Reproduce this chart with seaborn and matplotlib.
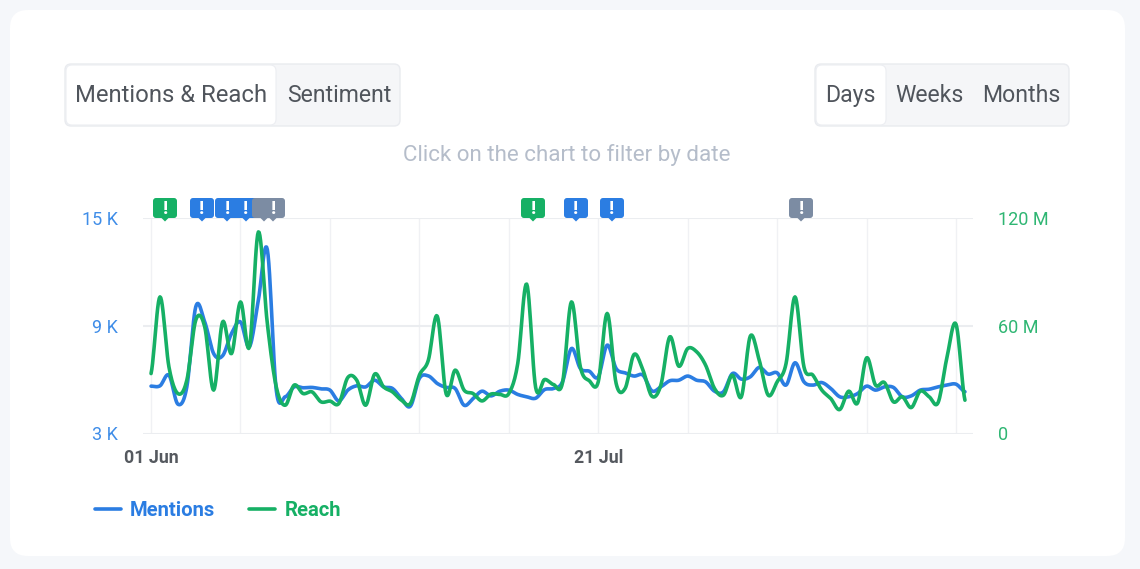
import numpy as np
import pandas as pd
import matplotlib
matplotlib.use("Agg")
import matplotlib.pyplot as plt
import seaborn as sns
from matplotlib.patches import FancyBboxPatch, Polygon

# values, one per day from 01 Jun
mentions = [5.63, 5.65, 6.24, 4.63, 5.59, 10.04, 9.20, 7.44, 7.32, 8.56, 9.20, 7.82, 10.41, 13.22, 5.41, 5.04,
            5.59, 5.54, 5.56, 5.48, 5.41, 4.81, 5.41, 5.65, 5.59, 5.96, 5.59, 5.50, 4.94, 4.52, 6.06, 6.20,
            5.78, 5.56, 5.50, 4.57, 4.94, 5.35, 5.09, 5.35, 5.41, 5.17, 5.04, 4.96, 5.44, 5.50, 5.87, 7.72,
            6.61, 6.46, 6.15, 7.91, 6.61, 6.37, 6.19, 6.24, 5.37, 5.59, 5.93, 5.96, 6.19, 5.96, 5.87, 5.35,
            5.32, 6.33, 6.02, 6.15, 6.67, 6.30, 6.37, 5.69, 6.93, 5.87, 5.69, 5.83, 5.50, 5.04, 5.04, 5.22,
            5.63, 5.41, 5.59, 5.56, 5.04, 5.09, 5.41, 5.46, 5.59, 5.69, 5.74, 5.32]
reach = [33.3, 75.9, 37.0, 22.2, 29.6, 63.0, 59.3, 24.1, 62.0, 44.4, 73.1, 48.1, 112.0, 61.1, 25.9, 15.7,
         26.9, 22.2, 23.1, 17.6, 18.0, 16.7, 31.1, 29.6, 15.7, 33.0, 25.9, 23.1, 18.5, 16.7, 32.4, 40.7,
         65.2, 21.9, 35.2, 24.1, 22.2, 18.1, 21.9, 21.7, 22.2, 38.9, 83.0, 25.6, 30.0, 27.2, 28.1, 73.1,
         37.0, 29.3, 28.7, 66.7, 27.8, 25.0, 43.9, 35.2, 20.7, 26.9, 53.7, 37.4, 47.2, 45.4, 38.0, 25.0,
         21.3, 32.4, 20.4, 54.1, 40.7, 21.3, 28.7, 38.9, 75.9, 37.0, 32.4, 24.1, 19.4, 13.3, 23.5, 17.0,
         42.0, 26.9, 28.3, 17.6, 20.4, 14.4, 23.5, 20.4, 17.2, 42.6, 60.7, 18.5]
left_ticks = [3, 9, 15]
left_labels = ["3 K", "9 K", "15 K"]
right_ticks = [0, 60, 120]
right_labels = ["0", "60 M", "120 M"]
flag_types = ["green", "blue", "blue", "blue", "grey", "grey", "green", "blue", "blue", "grey"]
flag_px = [165, 202, 227, 246, 264, 273, 533, 576, 612, 801]

BLUE = "#2b7de2"
GREEN = "#16b065"
GREY = "#7c8ca3"
flag_colors = {"green": GREEN, "blue": BLUE, "grey": GREY}
W, H = 1140, 569


def spline(y, n=12):
    # highcharts style rounded line through the daily values
    y = np.asarray(y, dtype=float)
    p = np.r_[y[0], y, y[-1]]
    out = []
    for i in range(1, len(p) - 2):
        t = np.linspace(0, 1, n, endpoint=False)
        out.append(0.5 * (2 * p[i] + (p[i + 1] - p[i - 1]) * t
                          + (2 * p[i - 1] - 5 * p[i] + 4 * p[i + 1] - p[i + 2]) * t ** 2
                          + (3 * p[i] - p[i - 1] - 3 * p[i + 1] + p[i + 2]) * t ** 3))
    out.append([y[-1]])
    return np.concatenate(out)


sns.set_theme(style="white")
plt.rcParams["font.family"] = ["Roboto", "DejaVu Sans"]

dates = pd.date_range("2021-06-01", periods=len(mentions), freq="D")
smooth_days = pd.date_range(dates[0], dates[-1], periods=(len(dates) - 1) * 12 + 1)
df = pd.DataFrame({"day": smooth_days, "mentions": spline(mentions), "reach": spline(reach)})

fig = plt.figure(figsize=(W / 100, H / 100), dpi=100, facecolor="#f5f7fa")

# background layer in pixel coords: card and toggle buttons
bg = fig.add_axes([0, 0, 1, 1], zorder=0)
bg.set_xlim(0, W)
bg.set_ylim(H, 0)
bg.axis("off")


def box(a, x0, y0, x1, y1, fc, ec="none", r=6, lw=1.0, z=1):
    a.add_patch(FancyBboxPatch((x0, y0), x1 - x0, y1 - y0, boxstyle=f"round,pad=0,rounding_size={r}",
                               fc=fc, ec=ec, lw=lw, zorder=z, mutation_aspect=1))


box(bg, 10, 10, 1125, 556, "white", r=18)
box(bg, 65, 64, 400, 126, "#f5f6f8", "#e9ebef")
box(bg, 66, 65, 276, 125, "white", "#eceef2", lw=0.8, z=2)
box(bg, 815, 64, 1069, 126, "#f5f6f8", "#e9ebef")
box(bg, 816, 65, 886, 125, "white", "#eceef2", lw=0.8, z=2)
for label, cx, fs in [("Mentions & Reach", 171, 17.2), ("Sentiment", 339, 16.6), ("Days", 850, 16.6),
                      ("Weeks", 930, 16.6), ("Months", 1021, 16.6)]:
    bg.text(cx, 95.5, label, ha="center", va="center", fontsize=fs, color="#50555c", zorder=3)
bg.text(567, 155, "Click on the chart to filter by date", ha="center", va="center", fontsize=16.1, color="#b5bdca")

# main chart
ax = fig.add_axes([143 / W, 1 - 433.5 / H, 830 / W, 216 / H], zorder=1)
ax.patch.set_alpha(0)
sns.lineplot(data=df, x="day", y="mentions", ax=ax, color=BLUE, lw=2.6)
ax.set_xlim(dates[0] - pd.Timedelta(days=0.9), dates[0] + pd.Timedelta(days=91.9))
ax.set_ylim(3, 15)
ax.set_xlabel("")
ax.set_ylabel("")
ax.set_xticks(dates[::10])
ax.set_xticklabels(["01 Jun" if i == 0 else "21 Jul" if i == 50 else "" for i in range(0, len(dates), 10)],
                   fontsize=12.8, fontweight="bold", color="#55595f")
ax.set_yticks(left_ticks)
ax.set_yticklabels(left_labels, fontsize=13, color="#3f8de8")
ax.tick_params(axis="x", length=0, pad=11.5)
ax.tick_params(axis="y", length=0, pad=18)
ax.grid(True, axis="y", color="#ebedf0", lw=1.5)
ax.grid(True, axis="x", color="#f0f1f4", lw=1)
ax.set_axisbelow(True)
sns.despine(ax=ax, left=True, right=True, top=True, bottom=True)

ax2 = ax.twinx()
sns.lineplot(data=df, x="day", y="reach", ax=ax2, color=GREEN, lw=2.6)
ax2.set_ylim(0, 120)
ax2.set_ylabel("")
ax2.set_yticks(right_ticks)
ax2.set_yticklabels(right_labels, fontsize=13, color="#2fb673")
ax2.tick_params(axis="y", length=0, pad=18)
ax2.grid(False)
sns.despine(ax=ax2, left=True, right=True, top=True, bottom=True)

# flags and legend on top
top = fig.add_axes([0, 0, 1, 1], zorder=3)
top.set_xlim(0, W)
top.set_ylim(H, 0)
top.axis("off")
for i, (kind, x) in enumerate(zip(flag_types, flag_px)):
    c = flag_colors[kind]
    z = 5 + i
    box(top, x - 12, 198, x + 12, 218, c, r=3, z=z)
    top.add_patch(Polygon([(x - 3.5, 218), (x + 3.5, 218), (x, 221.5)], fc=c, ec="none", zorder=z))
    top.text(x, 208.5, "!", ha="center", va="center", color="white", fontsize=14, fontweight="bold", zorder=z)

top.plot([95, 121], [509, 509], color=BLUE, lw=2.6, solid_capstyle="round")
top.text(130, 510, "Mentions", va="center", color=BLUE, fontsize=14.6, fontweight="bold")
top.plot([249, 275], [509, 509], color=GREEN, lw=2.6, solid_capstyle="round")
top.text(285, 510, "Reach", va="center", color=GREEN, fontsize=14.6, fontweight="bold")

fig.savefig("out.png", dpi=100, facecolor=fig.get_facecolor())
